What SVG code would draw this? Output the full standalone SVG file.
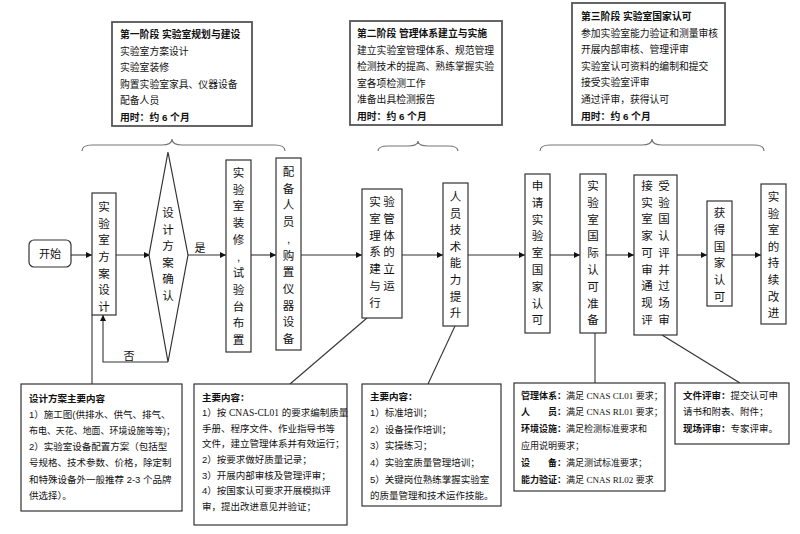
<svg xmlns="http://www.w3.org/2000/svg" width="800" height="534" viewBox="0 0 800 534">
<defs>
<style>
.t{font-family:"Liberation Sans","Noto Sans CJK SC",sans-serif;fill:#111}
.v{font-size:11.5px;text-anchor:middle;dominant-baseline:central}
.p{font-size:9.8px}
.s{font-size:9.5px}
.s9{font-size:9px}
.b{font-weight:bold}
.lat{font-family:"Liberation Serif","Noto Sans CJK SC",serif}
.box{fill:#fff;stroke:#333;stroke-width:1.2}
.pbox{fill:#fff;stroke:#555;stroke-width:1.8}
.ln{fill:none;stroke:#333;stroke-width:1.1}
.br{fill:none;stroke:#777;stroke-width:1.2}
</style>
<marker id="ah" viewBox="0 0 10 10" refX="10" refY="5" markerWidth="8" markerHeight="6" orient="auto" markerUnits="userSpaceOnUse"><path d="M0,0 L10,5 L0,10 z" fill="#111"/></marker>
</defs>
<rect width="800" height="534" fill="#fff"/>

<!-- phase boxes -->
<g id="phase1">
<rect class="pbox" x="112" y="22" width="140" height="104"/>
<text class="t p"><tspan class="b" x="120" y="38">第一阶段 实验室规划与建设</tspan><tspan x="120" y="54.6">实验室方案设计</tspan><tspan x="120" y="71.2">实验室装修</tspan><tspan x="120" y="87.8">购置实验室家具、仪器设备</tspan><tspan x="120" y="104.4">配备人员</tspan><tspan class="b" x="120" y="121">用时：约 6 个月</tspan></text>
</g>
<g id="phase2">
<rect class="pbox" x="350" y="21" width="152" height="104"/>
<text class="t p"><tspan class="b" x="357" y="37">第二阶段 管理体系建立与实施</tspan><tspan x="357" y="53.6">建立实验室管理体系、规范管理</tspan><tspan x="357" y="70.2">检测技术的提高、熟练掌握实验</tspan><tspan x="357" y="86.8">室各项检测工作</tspan><tspan x="357" y="103.4">准备出具检测报告</tspan><tspan class="b" x="357" y="120">用时：约 6 个月</tspan></text>
</g>
<g id="phase3">
<rect class="pbox" x="572" y="3" width="153" height="122"/>
<text class="t p"><tspan class="b" x="581" y="20">第三阶段 实验室国家认可</tspan><tspan x="581" y="36.6">参加实验室能力验证和测量审核</tspan><tspan x="581" y="53.2">开展内部审核、管理评审</tspan><tspan x="581" y="69.8">实验室认可资料的编制和提交</tspan><tspan x="581" y="86.4">接受实验室评审</tspan><tspan x="581" y="103">通过评审，获得认可</tspan><tspan class="b" x="581" y="119.6">用时：约 6 个月</tspan></text>
</g>

<!-- braces -->
<g id="braces">
<path class="br" d="M82,151 Q82,145 92,145 L162,145 Q172,145 172,139 Q172,145 182,145 L275,145 Q285,145 285,151"/>
<path class="br" d="M378,151 Q378,146 388,146 L408,146 Q418,146 418,141 Q418,146 428,146 L448,146 Q458,146 458,151"/>
<path class="br" d="M540,151 Q540,145 550,145 L642,145 Q652,145 652,139 Q652,145 662,145 L754,145 Q764,145 764,151"/>
</g>

<!-- connectors -->
<g id="connectors">
<line class="ln" x1="71" y1="255" x2="92" y2="255" marker-end="url(#ah)"/>
<line class="ln" x1="116" y1="255" x2="150" y2="255" marker-end="url(#ah)"/>
<line class="ln" x1="188" y1="255" x2="226" y2="255" marker-end="url(#ah)"/>
<line class="ln" x1="251" y1="255" x2="276" y2="255" marker-end="url(#ah)"/>
<line class="ln" x1="301" y1="255" x2="362" y2="255" marker-end="url(#ah)"/>
<line class="ln" x1="402" y1="255" x2="443" y2="255" marker-end="url(#ah)"/>
<line class="ln" x1="468" y1="255" x2="525" y2="255" marker-end="url(#ah)"/>
<line class="ln" x1="550" y1="255" x2="580" y2="255" marker-end="url(#ah)"/>
<line class="ln" x1="606" y1="255" x2="634" y2="255" marker-end="url(#ah)"/>
<line class="ln" x1="677" y1="255" x2="707" y2="255" marker-end="url(#ah)"/>
<line class="ln" x1="732" y1="255" x2="761" y2="255" marker-end="url(#ah)"/>
<polyline class="ln" points="168,362 103,362 103,315" marker-end="url(#ah)"/>
<line class="ln" x1="92" y1="315" x2="92" y2="384"/>
<line class="ln" x1="367" y1="318" x2="290" y2="384"/>
<line class="ln" x1="455" y1="326" x2="428" y2="384"/>
<line class="ln" x1="595" y1="333" x2="595" y2="383"/>
<line class="ln" x1="662" y1="335" x2="740" y2="383"/>
<text class="t" x="200" y="252" font-size="11" text-anchor="middle">是</text>
<text class="t" x="129" y="360" font-size="11" text-anchor="middle">否</text>
</g>

<!-- flow nodes -->
<g id="start">
<rect class="box" x="29" y="240" width="42" height="27" rx="5"/>
<text class="t" x="50" y="254" font-size="11" text-anchor="middle" dominant-baseline="central">开始</text>
</g>
<g id="design">
<rect class="box" x="92" y="193" width="24" height="122"/>
<text class="t v"><tspan x="104" y="207">实</tspan><tspan x="104" y="223.7">验</tspan><tspan x="104" y="240.3">室</tspan><tspan x="104" y="257">方</tspan><tspan x="104" y="273.7">案</tspan><tspan x="104" y="290.3">设</tspan><tspan x="104" y="307">计</tspan></text>
</g>
<g id="confirm">
<polygon class="box" points="168,152 188,255 168,362 149,255"/>
<text class="t v"><tspan x="168" y="213">设</tspan><tspan x="168" y="229.6">计</tspan><tspan x="168" y="246.2">方</tspan><tspan x="168" y="262.8">案</tspan><tspan x="168" y="279.4">确</tspan><tspan x="168" y="296">认</tspan></text>
</g>
<g id="decorate">
<rect class="box" x="226" y="160" width="25" height="192"/>
<text class="t v"><tspan x="238.5" y="173">实</tspan><tspan x="238.5" y="189.7">验</tspan><tspan x="238.5" y="206.4">室</tspan><tspan x="238.5" y="223.1">装</tspan><tspan x="238.5" y="239.8">修</tspan><tspan x="238.5" y="256.5">,</tspan><tspan x="238.5" y="273.2">试</tspan><tspan x="238.5" y="289.9">验</tspan><tspan x="238.5" y="306.6">台</tspan><tspan x="238.5" y="323.3">布</tspan><tspan x="238.5" y="340">置</tspan></text>
</g>
<g id="staff">
<rect class="box" x="276" y="158" width="25" height="192"/>
<text class="t v"><tspan x="288.5" y="172">配</tspan><tspan x="288.5" y="188.7">备</tspan><tspan x="288.5" y="205.4">人</tspan><tspan x="288.5" y="222.1">员</tspan><tspan x="288.5" y="238.8">,</tspan><tspan x="288.5" y="255.5">购</tspan><tspan x="288.5" y="272.2">置</tspan><tspan x="288.5" y="288.9">仪</tspan><tspan x="288.5" y="305.6">器</tspan><tspan x="288.5" y="322.3">设</tspan><tspan x="288.5" y="339">备</tspan></text>
</g>
<g id="mgmt">
<rect class="box" x="362" y="189" width="40" height="129"/>
<text class="t v"><tspan x="375" y="202">实</tspan><tspan x="389" y="202">验</tspan><tspan x="375" y="218.8">室</tspan><tspan x="389" y="218.8">管</tspan><tspan x="375" y="235.6">理</tspan><tspan x="389" y="235.6">体</tspan><tspan x="375" y="252.4">系</tspan><tspan x="389" y="252.4">的</tspan><tspan x="375" y="269.2">建</tspan><tspan x="389" y="269.2">立</tspan><tspan x="375" y="286">与</tspan><tspan x="389" y="286">运</tspan><tspan x="375" y="302.8">行</tspan></text>
</g>
<g id="skills">
<rect class="box" x="443" y="183" width="25" height="143"/>
<text class="t v"><tspan x="455.5" y="197">人</tspan><tspan x="455.5" y="213.6">员</tspan><tspan x="455.5" y="230.2">技</tspan><tspan x="455.5" y="246.8">术</tspan><tspan x="455.5" y="263.4">能</tspan><tspan x="455.5" y="280">力</tspan><tspan x="455.5" y="296.6">提</tspan><tspan x="455.5" y="313.2">升</tspan></text>
</g>
<g id="apply">
<rect class="box" x="525" y="174" width="25" height="159"/>
<text class="t v"><tspan x="537.5" y="186">申</tspan><tspan x="537.5" y="202.8">请</tspan><tspan x="537.5" y="219.6">实</tspan><tspan x="537.5" y="236.4">验</tspan><tspan x="537.5" y="253.2">室</tspan><tspan x="537.5" y="270">国</tspan><tspan x="537.5" y="286.8">家</tspan><tspan x="537.5" y="303.6">认</tspan><tspan x="537.5" y="320.4">可</tspan></text>
</g>
<g id="prepare">
<rect class="box" x="580" y="174" width="26" height="159"/>
<text class="t v"><tspan x="593" y="186">实</tspan><tspan x="593" y="202.8">验</tspan><tspan x="593" y="219.6">室</tspan><tspan x="593" y="236.4">国</tspan><tspan x="593" y="253.2">际</tspan><tspan x="593" y="270">认</tspan><tspan x="593" y="286.8">可</tspan><tspan x="593" y="303.6">准</tspan><tspan x="593" y="320.4">备</tspan></text>
</g>
<g id="review">
<rect class="box" x="634" y="175" width="43" height="160"/>
<text class="t v"><tspan x="647" y="186">接</tspan><tspan x="664" y="186">受</tspan><tspan x="647" y="202.7">实</tspan><tspan x="664" y="202.7">验</tspan><tspan x="647" y="219.4">室</tspan><tspan x="664" y="219.4">国</tspan><tspan x="647" y="236.1">家</tspan><tspan x="664" y="236.1">认</tspan><tspan x="647" y="252.8">可</tspan><tspan x="664" y="252.8">评</tspan><tspan x="647" y="269.5">审</tspan><tspan x="664" y="269.5">并</tspan><tspan x="647" y="286.2">通</tspan><tspan x="664" y="286.2">过</tspan><tspan x="647" y="302.9">现</tspan><tspan x="664" y="302.9">场</tspan><tspan x="647" y="319.6">评</tspan><tspan x="664" y="319.6">审</tspan></text>
</g>
<g id="obtain">
<rect class="box" x="707" y="201" width="25" height="105"/>
<text class="t v"><tspan x="719.5" y="213">获</tspan><tspan x="719.5" y="229.8">得</tspan><tspan x="719.5" y="246.6">国</tspan><tspan x="719.5" y="263.4">家</tspan><tspan x="719.5" y="280.2">认</tspan><tspan x="719.5" y="297">可</tspan></text>
</g>
<g id="improve">
<rect class="box" x="761" y="184" width="25" height="140"/>
<text class="t v"><tspan x="773.5" y="197">实</tspan><tspan x="773.5" y="213.6">验</tspan><tspan x="773.5" y="230.2">室</tspan><tspan x="773.5" y="246.8">的</tspan><tspan x="773.5" y="263.4">持</tspan><tspan x="773.5" y="280">续</tspan><tspan x="773.5" y="296.6">改</tspan><tspan x="773.5" y="313.2">进</tspan></text>
</g>

<!-- bottom note boxes -->
<g id="note1">
<rect class="box" x="21" y="384" width="161" height="127"/>
<text class="t s"><tspan class="b" x="29" y="401.5">设计方案主要内容</tspan><tspan x="29" y="417.7">1）施工图(供排水、供气、排气、</tspan><tspan x="29" y="433.9" textLength="146" lengthAdjust="spacingAndGlyphs">布电、天花、地面、环境设施等等)；</tspan><tspan x="29" y="450.1">2）实验室设备配置方案（包括型</tspan><tspan x="29" y="466.3">号规格、技术参数、价格，除定制</tspan><tspan x="29" y="482.5">和特殊设备外一般推荐 2-3 个品牌</tspan><tspan x="29" y="498.7">供选择）。</tspan></text>
</g>
<g id="note2">
<rect class="box" x="194" y="384" width="153" height="141"/>
<text class="t s"><tspan class="b" x="202" y="400.5">主要内容：</tspan><tspan x="202" y="416.1">1）按 <tspan class="lat">CNAS-CL01</tspan> 的要求编制质量</tspan><tspan x="202" y="431.7">手册、程序文件、作业指导书等</tspan><tspan x="202" y="447.3">文件，建立管理体系并有效运行；</tspan><tspan x="202" y="462.9">2）按要求做好质量记录；</tspan><tspan x="202" y="478.5">3）开展内部审核及管理评审；</tspan><tspan x="202" y="494.1">4）按国家认可要求开展模拟评</tspan><tspan x="202" y="509.7">审，提出改进意见并验证；</tspan></text>
</g>
<g id="note3">
<rect class="box" x="362" y="384" width="139" height="122"/>
<text class="t s"><tspan class="b" x="370" y="399.5">主要内容：</tspan><tspan x="370" y="416.1">1）标准培训；</tspan><tspan x="370" y="432.7">2）设备操作培训；</tspan><tspan x="370" y="449.3">3）实操练习；</tspan><tspan x="370" y="465.9">4）实验室质量管理培训；</tspan><tspan x="370" y="482.5">5）关键岗位熟练掌握实验室</tspan><tspan x="370" y="499.1">的质量管理和技术运作技能。</tspan></text>
</g>
<g id="note4">
<rect class="box" x="514" y="383" width="151" height="108"/>
<text class="t s9"><tspan x="521" y="398.5"><tspan class="b">管理体系：</tspan>满足 <tspan class="lat">CNAS CL01</tspan> 要求；</tspan><tspan x="521" y="415.3"><tspan class="b">人　　员：</tspan>满足 <tspan class="lat">CNAS RL01</tspan> 要求；</tspan><tspan x="521" y="432.1"><tspan class="b">环境设施：</tspan>满足检测标准要求和</tspan><tspan x="521" y="448.9">应用说明要求；</tspan><tspan x="521" y="465.7"><tspan class="b">设　　备：</tspan>满足测试标准要求；</tspan><tspan x="521" y="482.5"><tspan class="b">能力验证：</tspan>满足 <tspan class="lat">CNAS RL02</tspan> 要求</tspan></text>
</g>
<g id="note5">
<rect class="box" x="675" y="383" width="114" height="61"/>
<text class="t s"><tspan x="683" y="398.5"><tspan class="b">文件评审：</tspan>提交认可申</tspan><tspan x="683" y="415">请书和附表、附件；</tspan><tspan x="683" y="431.5"><tspan class="b">现场评审：</tspan>专家评审。</tspan></text>
</g>
</svg>
